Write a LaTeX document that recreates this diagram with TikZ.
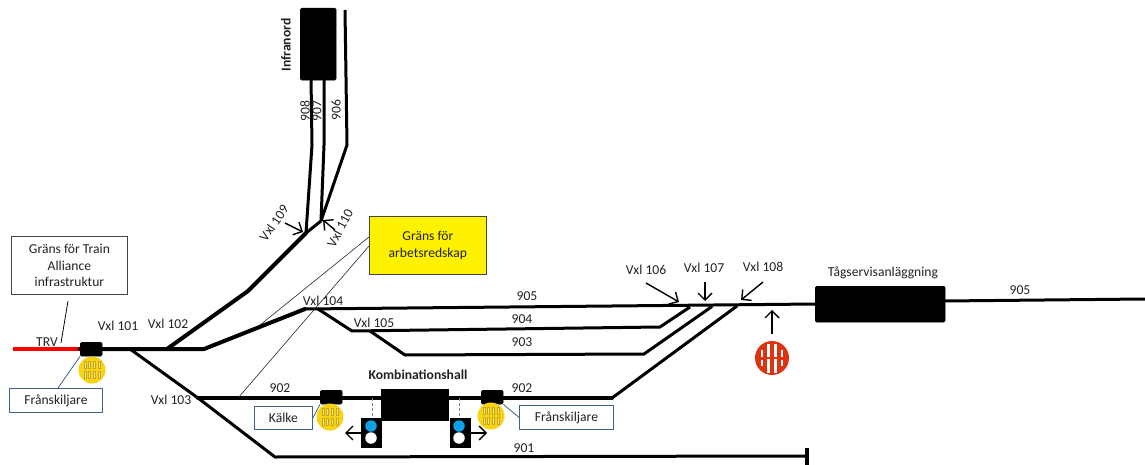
\documentclass[tikz,border=0pt]{standalone}
\usepackage{fontspec}
\setmainfont{Carlito}
\usetikzlibrary{arrows.meta}
\definecolor{boxblue}{HTML}{41608A}
\definecolor{grateyellow}{HTML}{F7D316}
\definecolor{grateedge}{HTML}{C9A520}
\definecolor{grayline}{HTML}{444444}
\definecolor{txtc}{HTML}{222222}
\definecolor{sigblue}{HTML}{0FA0E6}
\definecolor{gratered}{HTML}{DD3311}
\tikzset{
  x=1pt,y=-1pt,
  every node/.style={font=\fontsize{13.6}{16.5}\selectfont,text=txtc,inner sep=0pt},
  track/.style={draw=black,line width=4pt,line join=round,line cap=round},
  thintrack/.style={draw=black,line width=3pt,line join=round},
  block/.style={fill=black,draw=black,rounded corners=1.5pt,anchor=north west},
  grayc/.style={draw=grayline,line width=0.9pt,fill=white,align=center,anchor=north west},
  bluec/.style={draw=boxblue,line width=0.9pt,fill=white,align=center,anchor=north west},
  lead/.style={draw=boxblue,line width=0.8pt},
  hair/.style={draw=black!85,line width=0.6pt},
  pointer/.style={draw=black,line width=1.4pt,-{Straight Barb[length=7pt,width=14pt,line width=1.4pt]}},
  signal/.style={fill=black,draw=black,anchor=north west,minimum width=20pt,minimum height=29pt},
  lampb/.style={circle,fill=sigblue,minimum size=11.5pt},
  lampw/.style={circle,fill=white,minimum size=11.5pt},
}
\newcommand{\grateY}[2]{%
  \node[circle,fill=grateyellow,minimum size=27pt] at (#1,#2) {};
  \foreach \dx in {-7,-2.4,2.4,7}{
    \fill[grateyellow!55!white,draw=grateedge,line width=0.35pt] (#1+\dx-1,#2-8.5) rectangle (#1+\dx+1,#2-1.5);
    \fill[grateyellow!55!white,draw=grateedge,line width=0.35pt] (#1+\dx-1,#2+1.5) rectangle (#1+\dx+1,#2+8.5);
  }
}
\newcommand{\grateR}[2]{%
  \node[circle,fill=gratered,minimum size=34pt] at (#1,#2) {};
  \foreach \dx in {-3.5,3.5}{
    \fill[white] (#1+\dx-1.7,#2-14.5) rectangle (#1+\dx+1.7,#2-1.2);
    \fill[white] (#1+\dx-1.7,#2+1.2) rectangle (#1+\dx+1.7,#2+14.5);
  }
  \foreach \dx in {-10,10}{
    \fill[white] (#1+\dx-1.3,#2-8) rectangle (#1+\dx+1.3,#2-1.5);
    \fill[white] (#1+\dx-1.3,#2+1.5) rectangle (#1+\dx+1.3,#2+8);
  }
}
\begin{document}
\begin{tikzpicture}
\useasboundingbox (0,0) rectangle (1145,465);
% track coordinates
\coordinate (redA) at (13,349);
\coordinate (s101) at (80,349);
\coordinate (mainE) at (204,349);
\coordinate (j101) at (130,349);
\coordinate (j102) at (167,349);
\coordinate (b1) at (248,291);
\coordinate (j109) at (306,233);
\coordinate (j110) at (321,221);
\coordinate (a908) at (312,145);
\coordinate (e908) at (311,78);
\coordinate (a907) at (324,145);
\coordinate (e907) at (324,78);
\coordinate (a906) at (347,145);
\coordinate (e906) at (345,10);
\coordinate (j104a) at (305,309);
\coordinate (t905) at (816,304);
\coordinate (r905a) at (944,301);
\coordinate (r905b) at (1145,299);
\coordinate (j104) at (318,309);
\coordinate (b904) at (352,331);
\coordinate (j105) at (370,331);
\coordinate (b904e) at (660,327);
\coordinate (j106) at (690,307);
\coordinate (b903) at (405,355);
\coordinate (b903e) at (644,354);
\coordinate (j107) at (712,306.5);
\coordinate (j103) at (198,398);
\coordinate (b902e) at (612,398);
\coordinate (j108) at (737,306);
\coordinate (b901) at (275,457);
\coordinate (e901) at (807,456);
\coordinate (t1) at (807,448);
\coordinate (t2) at (807,465);
% tracks
\draw[draw=red,line width=4.5pt] (redA) -- (s101);
\draw[track] (s101) -- (mainE) -- (j104a);
\draw[track] (j102) -- (b1) -- (j109);
\draw[thintrack] (j109) -- (j110);
\draw[thintrack] (j109) -- (a908) -- (e908);
\draw[thintrack] (j110) -- (a907) -- (e907);
\draw[thintrack] (j110) -- (a906) -- (e906);
\draw[thintrack] (j104a) -- (t905);
\draw[thintrack] (r905a) -- (r905b);
\draw[thintrack] (j104) -- (b904) -- (b904e) -- (j106);
\draw[thintrack] (j105) -- (b903) -- (b903e) -- (j107);
\draw[thintrack] (j101) -- (j103) -- (b901) -- (e901);
\draw[track] (j103) -- (b902e);
\draw[thintrack] (b902e) -- (j108);
\draw[draw=black,line width=3.5pt] (t1) -- (t2);
% hair lines to yellow box
\node[draw=grayline,fill=yellow,line width=0.8pt,anchor=north west,minimum width=117pt,minimum height=58pt,align=center] (limit) at (369,216) {Gräns för\\[1pt]arbetsredskap};
\coordinate (h1a) at (369,237);
\coordinate (h1b) at (260,325);
\coordinate (h2a) at (369,246);
\coordinate (h2b) at (238,398);
\draw[hair] (h1a) -- (h1b);
\draw[hair] (h2a) -- (h2b);
% blocks
\node[block,minimum width=36pt,minimum height=72pt] (infranord) at (300,8) {};
\node[block,minimum width=130pt,minimum height=36pt] (tag) at (815,286) {};
\node[block,minimum width=22pt,minimum height=14pt] (sepA) at (80,342) {};
\node[block,minimum width=22pt,minimum height=14pt] (kalkeB) at (320,390) {};
\node[block,minimum width=22pt,minimum height=14pt] (sepB) at (481,390) {};
\node[fill=black,anchor=north west,minimum width=68pt,minimum height=32pt] (hall) at (381,389) {};
% dashed signal posts
\node[signal] (sigL) at (361,418) {};
\node[signal] (sigR) at (450,418) {};
\coordinate (pL) at (372,398);
\coordinate (pR) at (459,398);
\draw[draw=gray,line width=0.6pt,densely dashed] (pL) -- (pL |- sigL.north);
\draw[draw=gray,line width=0.6pt,densely dashed] (pR) -- (pR |- sigR.north);
\node[lampb] (l1) at (371,426) {};
\node[lampw] (l2) at (371,438) {};
\node[lampb] (l3) at (459,426) {};
\node[lampw] (l4) at (459,438) {};
% gratings
\grateY{92}{370}
\grateY{330}{417}
\grateY{491}{416}
\grateR{772}{358}
% signal arrows
\coordinate (aL) at (345,433);
\coordinate (aR) at (487,433);
\draw[pointer] (sigL.west |- aL) -- (aL);
\draw[pointer] (sigR.east |- aR) -- (aR);
% callouts
\node[grayc,minimum width=116pt,minimum height=58pt] (train) at (11,236) {Gräns för Train\\Alliance\\infrastruktur};
\coordinate (tl1) at (68,301);
\coordinate (tl2) at (61,343);
\draw[draw=black,line width=0.8pt] (tl1) -- (tl2);
\node[bluec,minimum width=93pt,minimum height=24pt] (fr1) at (9,388) {Frånskiljare};
\node[bluec,minimum width=58pt,minimum height=23pt] (kalke) at (254,406) {Kälke};
\node[bluec,minimum width=94pt,minimum height=24pt] (fr2) at (519,405) {Frånskiljare};
\coordinate (c1) at (58,388);
\draw[lead] (sepA.south west) -- (c1);
\draw[lead] (kalkeB.south west) -- (kalke.east);
\draw[lead] (sepB.south east) -- (fr2.west);
% pointers
\coordinate (p106) at (646,283); \coordinate (q106) at (679,302);
\coordinate (p107) at (705,282); \coordinate (q107) at (705,301);
\coordinate (p108) at (763,282); \coordinate (q108) at (741,300);
\coordinate (pg) at (772,334); \coordinate (qg) at (772,310);
\coordinate (p109) at (285,223); \coordinate (q109) at (303,232);
\coordinate (p110) at (335,230); \coordinate (q110) at (323,220);
\draw[pointer] (p106) -- (q106);
\draw[pointer] (p107) -- (q107);
\draw[pointer] (p108) -- (q108);
\draw[pointer] (pg) -- (qg);
\draw[pointer] (p109) -- (q109);
\draw[pointer] (p110) -- (q110);
% labels
\node (tTRV) at (47,342) {TRV};
\node (tv101) at (118,326) {Vxl 101};
\node (tv102) at (168,324) {Vxl 102};
\node (tv103) at (171,400) {Vxl 103};
\node (tv104) at (323,301) {Vxl 104};
\node (tv105) at (374,323) {Vxl 105};
\node (tv106) at (646,270) {Vxl 106};
\node (tv107) at (704,268) {Vxl 107};
\node (tv108) at (763,267) {Vxl 108};
\node[rotate=55] (tv109) at (274,223) {Vxl 109};
\node[rotate=62] (tv110) at (340,228) {Vxl 110};
\node (t902a) at (280,388) {902};
\node (t902b) at (522,388) {902};
\node (t901) at (524,448) {901};
\node (t905) at (527,296) {905};
\node (t904) at (522,319) {904};
\node (t903) at (522,342) {903};
\node (t905r) at (1020,290) {905};
\node[font=\fontsize{13.6}{16.5}\selectfont\bfseries] (thall) at (418,375) {Kombinationshall};
\node (ttag) at (883,273) {Tågservisanläggning};
\node[rotate=90,font=\fontsize{13.6}{16.5}\selectfont\bfseries] (tinf) at (286,45) {Infranord};
\node[rotate=90] (t908) at (305,111) {908};
\node[rotate=90] (t907) at (317,111) {907};
\node[rotate=90] (t906) at (336,110) {906};
\end{tikzpicture}
\end{document}
